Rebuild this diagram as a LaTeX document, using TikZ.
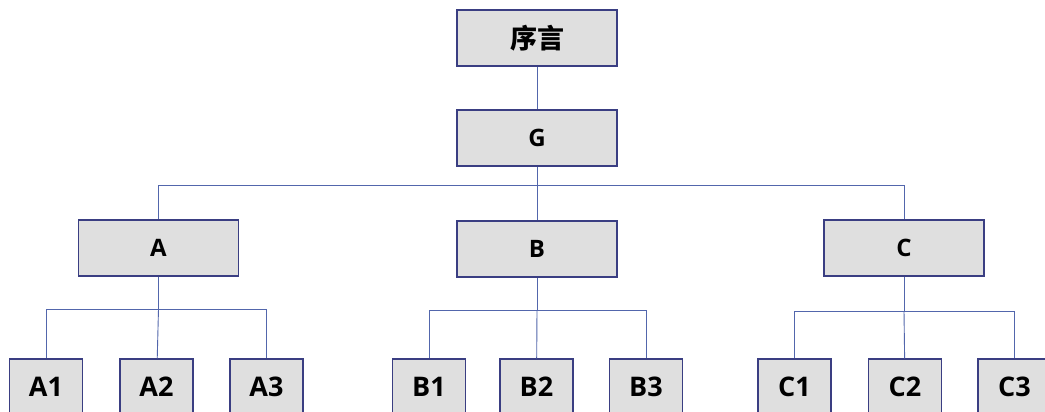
\documentclass[tikz,border=0pt]{standalone}
\usepackage{fontspec}
\setmainfont{Open Sans}
\newfontfamily\cjkfont{Noto Sans CJK SC}
\usepackage{tikz}
\usetikzlibrary{positioning,calc}
\definecolor{boxfill}{RGB}{223,223,223}
\definecolor{boxline}{RGB}{58,62,130}
\definecolor{linkline}{RGB}{82,102,172}
\tikzset{box/.style={rectangle,draw=boxline,fill=boxfill,line width=1.2pt,
                     minimum width=160pt,minimum height=56pt,inner sep=0pt,
                     font=\bfseries\fontsize{24}{24}\selectfont},
         leaf/.style={box,minimum width=73pt,font=\bfseries\fontsize{27}{27}\selectfont},
         link/.style={draw=linkline,line width=0.9pt}
}

\begin{document}
\begin{tikzpicture}[x=1pt,y=-1pt]
    \useasboundingbox (0,0) rectangle (1045,412);
    \clip (0,0) rectangle (1045,412);
    \fill[white] (0,0) rectangle (1045,412);

    \node[box] (P) at (537,38)    {\cjkfont\bfseries\fontsize{27}{27}\selectfont 序言};
    \node[box] (G) at (537,138)   {G};
    \node[box] (A) at (158.5,248) {A};
    \node[box] (B) at (537,249)   {B};
    \node[box] (C) at (904,248)   {C};

    \node[leaf] (A1) at (46,387)    {A1};
    \node[leaf] (A2) at (156.5,387) {A2};
    \node[leaf] (A3) at (266.5,387) {A3};
    \node[leaf] (B1) at (429,387)   {B1};
    \node[leaf] (B2) at (536.5,387) {B2};
    \node[leaf] (B3) at (646,387)   {B3};
    \node[leaf] (C1) at (794.5,387) {C1};
    \node[leaf] (C2) at (905,387)   {C2};
    \node[leaf] (C3) at (1014.5,387){C3};

    % junctions
    \coordinate (g) at (537,185);
    \coordinate (a) at (158.5,309);
    \coordinate (b) at (537,310);
    \coordinate (c) at (904,311);

    \draw[link] (P) -- (G);
    \draw[link] (G) -- (g);
    \draw[link] (g) -| (A);
    \draw[link] (g) -| (C);
    \draw[link] (g) -- (B);

    \draw[link] (A) -- (a);
    \draw[link] (a) -| (A1);
    \draw[link] (a) -| (A3);
    \draw[link] (a) -- (A2);

    \draw[link] (B) -- (b);
    \draw[link] (b) -| (B1);
    \draw[link] (b) -| (B3);
    \draw[link] (b) -- (B2);

    \draw[link] (C) -- (c);
    \draw[link] (c) -| (C1);
    \draw[link] (c) -| (C3);
    \draw[link] (c) -- (C2);
\end{tikzpicture}
\end{document}
